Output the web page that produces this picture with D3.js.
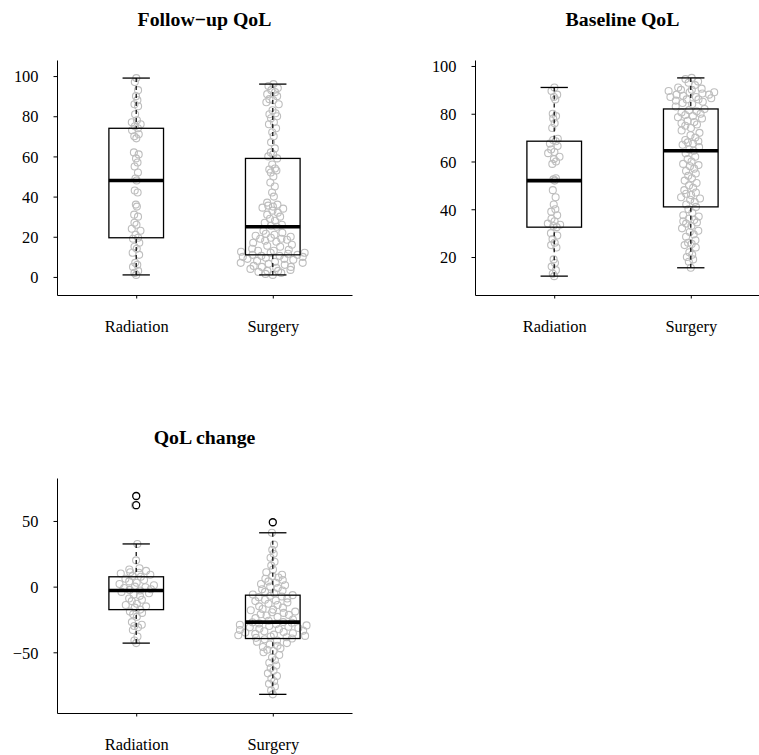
<!DOCTYPE html>
<html>
<head>
<meta charset="utf-8">
<script src="https://cdn.jsdelivr.net/npm/d3@7"></script>
<style>
  body { margin: 0; background: #fff; }
  svg { display: block; }
</style>
</head>
<body>
<svg id="chart" width="759" height="755"></svg>
<script>
// Treatment groups
const groups = ["Radiation", "Surgery"];

// Follow-up quality of life scores
const followUpRadiation = [1, 2, 3, 5, 6, 7, 11, 12, 14, 15, 17, 19, 19.5,
  21, 23, 24, 26, 27, 30, 31, 35, 36, 42, 43, 48,
  49, 52, 55, 57, 59, 61, 62, 69, 70, 71, 73, 74,
  75, 76, 77, 78, 81, 85, 86, 88, 90, 93, 97, 99];
const followUpSurgery = [1, 1.5, 2, 2.5, 3, 3, 3.5, 4, 4.5, 5, 5, 5.5, 6, 6.5, 7, 7, 7.5, 8, 8.5, 9,
  9, 9.5, 10, 10, 10.5, 10.5, 11,
  11, 11.5, 12, 12, 12.5, 13, 13, 13.5, 14, 15, 15.5, 16, 17, 17.5, 18, 18.5, 19, 19, 19.5, 20,
  20.5, 21, 21.5, 22, 23, 25,
  25.5, 26, 27, 28, 29, 30, 31, 32, 33, 34, 34.5, 35, 35.5, 36, 37, 40, 42, 45, 47, 50,
  52, 53, 53.5, 54, 56, 59,
  60, 61, 62, 64, 67, 70, 72, 74, 76, 77, 79, 80, 81, 81.5, 83, 86, 87, 88, 88.5, 90,
  91, 92, 93, 94, 95, 96];

// Baseline quality of life scores
const baselineRadiation = [12, 13, 14.5, 16, 17.5, 19, 24, 25, 26, 27.5, 29, 30, 32.5,
  33, 33.5, 34, 35, 36, 37.5, 39, 40, 42, 45, 48, 52,
  52.5, 53, 59, 60, 61, 62, 63.5, 64, 65, 66.5, 67.5, 68.5,
  69, 69.5, 74, 76, 78, 79, 80, 86, 87, 88, 89.5, 91];
const baselineSurgery = [15.5, 18, 19, 20, 21, 22, 24, 25, 25.5, 26, 27, 28.5, 29.5, 30.5, 31, 32, 33, 34, 34.5, 35,
  35.5, 36, 37, 37.5, 38.5, 40, 41,
  42, 43, 44, 44.5, 45, 46, 46.5, 47, 48, 49, 50, 51, 52, 53, 54, 55, 56, 57, 58, 58.5,
  59, 60, 61, 62, 63.5, 64.5,
  65, 66, 67, 67.5, 68, 68.5, 69, 70, 71, 72, 73, 74, 75, 75.5, 76, 76.5, 77, 78, 78.5, 79,
  79.5, 80, 80.5, 81, 81.5, 82,
  83, 84, 84.5, 85, 85.5, 86, 86, 86.5, 87, 87, 87.5, 88, 88, 88.5, 89, 89, 89.5, 90, 90, 90.5,
  91, 92, 93, 93.5, 94.5, 95];

// Change in quality of life (follow-up minus baseline)
const changeRadiation = [-43, -41, -38, -33, -31, -30, -29, -27, -23, -21, -20, -19, -17.5,
  -16, -15, -14, -13, -11, -10, -9, -7, -6, -5, -4, -3,
  -2.5, -2, -1, -0.5, 0, 1, 2, 3, 4, 5, 6, 7.5,
  8, 9, 10, 10.5, 11, 12, 13, 14, 20, 32.5, 62, 69];
const changeSurgery = [-82, -79, -76, -74, -72, -70, -68, -66, -64, -62, -60, -58, -56, -54, -52, -50, -49, -48, -47, -46,
  -45, -44, -43, -42, -41, -40, -39.5,
  -39, -38.5, -38, -37.5, -37, -36.5, -36, -35.5, -35, -34.5, -34, -33.5, -33, -32.5, -32, -31.5, -31, -30.5, -30, -29.5,
  -29, -28.5, -28, -27.5, -27.2, -27,
  -26, -25, -24, -23, -22, -21.5, -21, -20, -19.5, -19, -18, -17.5, -17, -16, -15, -14, -13, -12, -11, -10.5,
  -10, -9, -8, -7.5, -7, -6.5,
  -6, -5, -4, -3, -2, -1, 0, 1, 2, 3, 4, 5, 6, 7, 8, 9, 11, 13, 16, 19,
  22, 25, 28, 32, 41, 49];

// Panel titles and y-axis tick values
const titles = ["Follow\u2212up QoL", "Baseline QoL", "QoL change"];
const followUpTicks = [0, 20, 40, 60, 80, 100];
const baselineTicks = [20, 40, 60, 80, 100];
const changeTicks = [-50, 0, 50];

// Panel layout: plot region origin, y-limits and widest point spread (px)
const plotW = 295, plotH = 235;
const panels = [
  { title: titles[0], series: [followUpRadiation, followUpSurgery], ticks: followUpTicks, ylim: [-9, 108], left: 57, top: 60, spread: 37 },
  { title: titles[1], series: [baselineRadiation, baselineSurgery], ticks: baselineTicks, ylim: [4.1, 102.5], left: 475, top: 60, spread: 26 },
  { title: titles[2], series: [changeRadiation, changeSurgery], ticks: changeTicks, ylim: [-96.2, 82.7], left: 57, top: 478, spread: 39 }
];

const FONT = "'Liberation Serif', 'Times New Roman', Times, serif";
const svg = d3.select("#chart");

// Tukey five-number summary (same hinges as R's boxplot)
function fivenum(values) {
  const x = values.slice().sort((a, b) => a - b);
  const n = x.length;
  const n4 = Math.floor((n + 3) / 2) / 2;
  const d = [1, n4, (n + 1) / 2, n + 1 - n4, n];
  return d.map(k => 0.5 * (x[Math.floor(k) - 1] + x[Math.ceil(k) - 1]));
}

function boxStats(values) {
  const [, q1, med, q3] = fivenum(values);
  const iqr = q3 - q1;
  const loFence = q1 - 1.5 * iqr, hiFence = q3 + 1.5 * iqr;
  const inside = values.filter(v => v >= loFence && v <= hiFence);
  return {
    q1, med, q3,
    lo: d3.min(inside), hi: d3.max(inside),
    out: values.filter(v => v < loFence || v > hiFence)
  };
}

// Silverman's rule-of-thumb bandwidth
function nrd0(values) {
  const s = values.slice().sort((a, b) => a - b);
  const sd = d3.deviation(s);
  const iqr = d3.quantile(s, 0.75) - d3.quantile(s, 0.25);
  const lo = Math.min(sd, iqr / 1.34) || sd || 1;
  return 0.9 * lo * Math.pow(s.length, -0.2);
}

// Count density (n * Gaussian KDE) evaluated at each value
function countDensity(values, adjust) {
  const bw = nrd0(values) * adjust;
  const c = 1 / (bw * Math.sqrt(2 * Math.PI));
  return values.map(t => d3.sum(values, v => Math.exp(-0.5 * ((t - v) / bw) ** 2)) * c);
}

// Van der Corput sequence (base 2), k = 1, 2, ...
function vanDerCorput(k) {
  let q = 0, bk = 0.5;
  while (k > 0) { q += (k & 1) * bk; k >>= 1; bk /= 2; }
  return q;
}

// Quasirandom offsets: spread follows the local density of each group
function quasirandomOffsets(seriesList, maxSpread) {
  const dens = seriesList.map(v => countDensity(v, 0.3));
  const peak = d3.max(dens, d => d3.max(d));
  return seriesList.map((values, gi) => {
    const order = d3.range(values.length).sort((a, b) => values[a] - values[b]);
    const off = new Array(values.length);
    order.forEach((i, r) => {
      const rel = dens[gi][i] / peak;
      off[i] = (vanDerCorput(r + 1) * 2 - 1) * Math.pow(rel, 1.4) * maxSpread;
    });
    return off;
  });
}

panels.forEach(panel => {
  const g = svg.append("g");
  const x = d3.scalePoint().domain(groups)
    .range([panel.left, panel.left + plotW]).padding(0.58);
  const y = d3.scaleLinear().domain(panel.ylim)
    .range([panel.top + plotH, panel.top]);
  const boxW = x.step() * 0.4;

  // Title
  g.append("text")
    .attr("x", panel.left + plotW / 2)
    .attr("y", panel.top - 34)
    .attr("text-anchor", "middle")
    .attr("font-family", FONT)
    .attr("font-weight", "bold")
    .attr("font-size", 19.8)
    .text(panel.title);

  // Axes (L-shaped frame)
  const yAxis = g.append("g")
    .attr("transform", `translate(${panel.left},0)`)
    .call(d3.axisLeft(y).tickValues(panel.ticks).tickSizeInner(3.5).tickSizeOuter(0)
      .tickFormat(d3.format("d")));
  yAxis.attr("font-family", FONT);
  yAxis.selectAll("text")
    .attr("x", -18.5)
    .attr("dy", "0.35em")
    .attr("font-family", FONT)
    .attr("font-size", 16.4)
    .attr("fill", "#000");

  const xAxis = g.append("g")
    .attr("transform", `translate(0,${panel.top + plotH})`)
    .call(d3.axisBottom(x).tickSizeInner(3.5).tickSizeOuter(0));
  xAxis.attr("font-family", FONT);
  xAxis.selectAll("text")
    .attr("y", 36.5)
    .attr("dy", 0)
    .attr("font-family", FONT)
    .attr("font-size", 16.4)
    .attr("fill", "#000");
  g.selectAll(".domain, .tick line").attr("stroke", "#000").attr("stroke-width", 1);

  const offsets = quasirandomOffsets(panel.series, panel.spread);

  panel.series.forEach((values, gi) => {
    const cx = x(groups[gi]);
    const offs = offsets[gi];
    const s = boxStats(values);

    // Points
    g.append("g").selectAll("circle")
      .data(values)
      .join("circle")
      .attr("cx", (d, i) => cx + offs[i])
      .attr("cy", d => y(d))
      .attr("r", 3.5)
      .attr("fill", "none")
      .attr("stroke", "#bebebe")
      .attr("stroke-width", 1.1);

    const bg = g.append("g").attr("stroke", "#000").attr("fill", "none");
    // Whiskers
    bg.append("line")
      .attr("x1", cx).attr("x2", cx)
      .attr("y1", y(s.hi)).attr("y2", y(s.q3))
      .attr("stroke-width", 1.2).attr("stroke-dasharray", "4,4");
    bg.append("line")
      .attr("x1", cx).attr("x2", cx)
      .attr("y1", y(s.lo)).attr("y2", y(s.q1))
      .attr("stroke-width", 1.2).attr("stroke-dasharray", "4,4");
    // Staples
    [s.lo, s.hi].forEach(v => {
      bg.append("line")
        .attr("x1", cx - boxW / 4).attr("x2", cx + boxW / 4)
        .attr("y1", y(v)).attr("y2", y(v))
        .attr("stroke-width", 1.3);
    });
    // Box
    bg.append("rect")
      .attr("x", cx - boxW / 2)
      .attr("y", y(s.q3))
      .attr("width", boxW)
      .attr("height", y(s.q1) - y(s.q3))
      .attr("stroke-width", 1.3);
    // Median
    bg.append("line")
      .attr("x1", cx - boxW / 2).attr("x2", cx + boxW / 2)
      .attr("y1", y(s.med)).attr("y2", y(s.med))
      .attr("stroke-width", 3.6);
    // Outliers
    bg.selectAll("circle.out")
      .data(s.out)
      .join("circle")
      .attr("class", "out")
      .attr("cx", cx)
      .attr("cy", d => y(d))
      .attr("r", 3.5)
      .attr("fill", "#fff")
      .attr("stroke-width", 1.3);
  });
});
</script>
</body>
</html>
